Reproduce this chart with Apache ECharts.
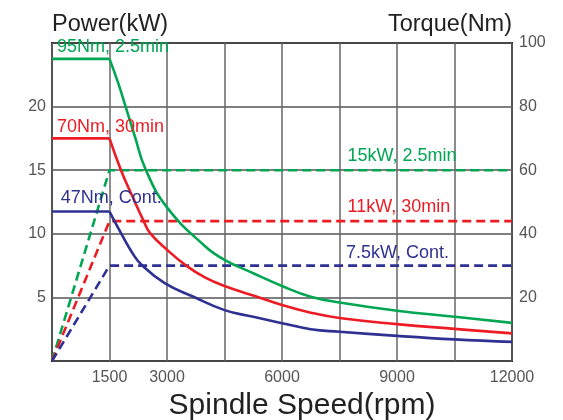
<!DOCTYPE html>
<html>
<head>
<meta charset="utf-8">
<script src="https://cdn.jsdelivr.net/npm/echarts@6/dist/echarts.min.js"></script>
<style>
  html, body { margin: 0; padding: 0; background: #fff; }
  #main { width: 563px; height: 420px; }
</style>
</head>
<body>
<div id="main"></div>
<script>
// speed (rpm) / torque (Nm)
const greenRpm = [0, 1500, 1730, 1920, 2165, 2440, 3000, 4000, 4500, 5250, 6000, 6750, 7500, 9000, 10500, 12000];
const greenTorque = [95, 95, 87.3, 80, 70.5, 60.3, 48.3, 36, 31.8, 27.6, 23.6, 20.2, 18.4, 15.8, 13.9, 12.0];

const redRpm = [0, 1500, 1800, 2100, 2380, 2560, 3000, 3500, 4000, 4500, 5250, 6000, 6750, 7500, 9000, 10500, 12000];
const redTorque = [70, 70, 60, 51.7, 44.3, 40.2, 35, 30, 26.2, 23.6, 20.6, 17.6, 15.2, 13.5, 11.6, 10.1, 8.7];

const blueRpm = [0, 1500, 1800, 2100, 2340, 2950, 3690, 4500, 5250, 6000, 6750, 7500, 9000, 10500, 12000];
const blueTorque = [47, 47, 40.2, 33.9, 30.2, 24.4, 20.2, 16.0, 13.9, 11.9, 10.0, 9.2, 7.9, 6.8, 6.0];

// power (kW) lines
const powerRpm = [0, 1500, 12000];
const greenPower = [0, 15, 15];
const redPower = [0, 11, 11];
const bluePower = [0, 7.5, 7.5];

const xTickLabels = [1500, 3000, 6000, 9000, 12000];
const torqueNotes = ['95Nm, 2.5min', '70Nm, 30min', '47Nm, Cont.'];
const powerNotes = ['15kW, 2.5min', '11kW, 30min', '7.5kW, Cont.'];

const GREEN = '#00a651', RED = '#ed1c24', BLUE = '#2e3192';
const FONT = 'Liberation Sans, Arial, sans-serif';

function pairs(xs, ys) {
  return xs.map((x, i) => [x, ys[i]]);
}

// text note hung on a series
function note(text, coord, color) {
  return {
    symbol: 'circle',
    symbolSize: 0,
    silent: true,
    data: [{ coord: coord, name: text }],
    label: {
      show: true,
      position: 'right',
      formatter: '{b}',
      color: color,
      fontSize: 18,
      fontFamily: FONT
    }
  };
}

function line(name, data, color, yIdx, dashed, smooth, mark) {
  return {
    name: name,
    type: 'line',
    yAxisIndex: yIdx,
    data: data,
    symbol: 'none',
    smooth: smooth,
    lineStyle: { color: color, width: 2.6, type: dashed ? [9, 5] : 'solid' },
    itemStyle: { color: color },
    markPoint: mark,
    z: dashed ? 3 : 4
  };
}

// torque: flat part up to base speed, then the falling curve (kept apart so the corner stays sharp)
function torque(name, rpm, nm, color, mark) {
  const all = pairs(rpm, nm);
  return [
    line(name, all.slice(0, 2), color, 1, false, false, mark),
    line(name + ' fall', all.slice(1), color, 1, false, 0.45)
  ];
}

const tickFont = { color: '#555', fontSize: 16, fontFamily: FONT };
const nameFont = { color: '#222', fontSize: 23.5, fontFamily: FONT };

let chart = echarts.init(document.getElementById('main'));
let option = {
  animation: false,
  grid: {
    left: 52, right: 51, top: 43, bottom: 59,
    outerBoundsMode: 'none',
    show: true,
    borderColor: '#222',
    borderWidth: 2
  },
  xAxis: {
    type: 'value',
    min: 0, max: 12000, interval: 1500,
    name: 'Spindle Speed(rpm)',
    nameLocation: 'middle',
    nameGap: 27,
    nameTextStyle: { color: '#222', fontSize: 30, fontFamily: FONT, padding: [0, 0, 0, 40] },
    axisLine: { show: false },
    axisTick: { show: false },
    axisLabel: Object.assign({ margin: 9, formatter: v => xTickLabels.includes(v) ? String(v) : '' }, tickFont),
    splitLine: { show: true, lineStyle: { color: '#666', width: 1.5 } }
  },
  yAxis: [
    {
      type: 'value',
      min: 0, max: 25, interval: 5,
      name: 'Power(kW)',
      nameLocation: 'end',
      nameGap: 6,
      nameTextStyle: Object.assign({ align: 'left', verticalAlign: 'bottom' }, nameFont),
      axisLine: { show: false },
      axisTick: { show: false },
      axisLabel: Object.assign({ margin: 6, formatter: v => (v > 0 && v < 25) ? String(v) : '' }, tickFont),
      splitLine: { show: true, lineStyle: { color: '#555', width: 1.5 } }
    },
    {
      type: 'value',
      position: 'right',
      min: 0, max: 100, interval: 20,
      name: 'Torque(Nm)',
      nameLocation: 'end',
      nameGap: 6,
      nameTextStyle: Object.assign({ align: 'right', verticalAlign: 'bottom' }, nameFont),
      axisLine: { show: false },
      axisTick: { show: false },
      axisLabel: Object.assign({ margin: 7, formatter: v => v > 0 ? String(v) : '' }, tickFont),
      splitLine: { show: false }
    }
  ],
  series: [
    line('power 2.5min', pairs(powerRpm, greenPower), GREEN, 0, true, false, note(powerNotes[0], [7580, 16.1], GREEN)),
    line('power 30min', pairs(powerRpm, redPower), RED, 0, true, false, note(powerNotes[1], [7580, 12.1], RED)),
    line('power cont', pairs(powerRpm, bluePower), BLUE, 0, true, false, note(powerNotes[2], [7540, 8.5], BLUE))
  ].concat(
    torque('torque 2.5min', greenRpm, greenTorque, GREEN, note(torqueNotes[0], [0, 98.7], GREEN)),
    torque('torque 30min', redRpm, redTorque, RED, note(torqueNotes[1], [0, 73.6], RED)),
    torque('torque cont', blueRpm, blueTorque, BLUE, note(torqueNotes[2], [100, 51.1], BLUE))
  )
};
chart.setOption(option);
</script>
</body>
</html>
